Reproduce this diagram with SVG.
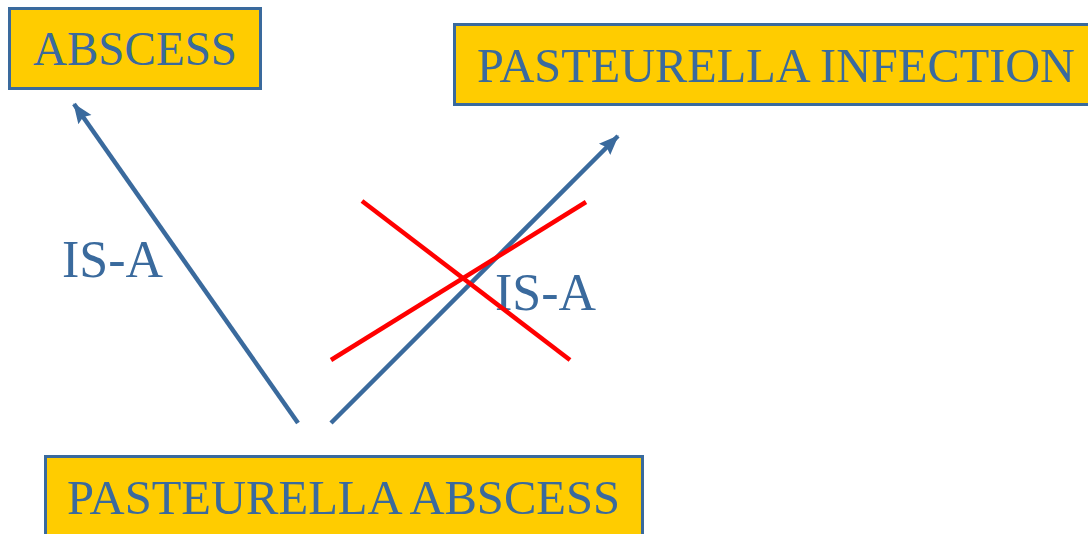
<svg xmlns="http://www.w3.org/2000/svg" width="1088" height="534" viewBox="0 0 1088 534">
  <style>
    .box { fill: #FFCC00; stroke: #3A6A9D; stroke-width: 3; }
    .lbl { font-family: "Liberation Serif", "Times New Roman", serif; font-size: 48.5px; fill: #3A6A9D; }
    .rel { font-family: "Liberation Serif", "Times New Roman", serif; font-size: 52px; fill: #3A6A9D; }
    .isa { stroke: #3A6A9D; stroke-width: 4.5; fill: none; marker-end: url(#head); }
    .cross { stroke: #FF0000; stroke-width: 4.5; fill: none; }
  </style>
  <defs>
    <marker id="head" markerUnits="userSpaceOnUse" markerWidth="20" markerHeight="20" viewBox="0 0 20 20" refX="19" refY="10" orient="auto">
      <path d="M0,2 L20,10 L0,18 L3,10 Z" fill="#3A6A9D"/>
    </marker>
  </defs>
  <rect width="1088" height="534" fill="#FFFFFF"/>

  <g id="node-abscess">
    <rect class="box" x="9.5" y="8.5" width="251" height="80"/>
    <text class="lbl" x="33" y="65" textLength="204" lengthAdjust="spacingAndGlyphs">ABSCESS</text>
  </g>

  <g id="node-pasteurella-infection">
    <rect class="box" x="454.5" y="24.5" width="640" height="80"/>
    <text class="lbl" x="477" y="82" textLength="598" lengthAdjust="spacingAndGlyphs">PASTEURELLA INFECTION</text>
  </g>

  <g id="node-pasteurella-abscess">
    <rect class="box" x="45.5" y="456.5" width="597" height="90"/>
    <text class="lbl" x="67" y="514" textLength="553" lengthAdjust="spacingAndGlyphs">PASTEURELLA ABSCESS</text>
  </g>

  <g id="connectors">
    <line class="isa" x1="298" y1="423" x2="74" y2="104"/>
    <line class="isa" x1="331" y1="423" x2="618" y2="136"/>
    <text class="rel" x="62" y="277" textLength="101" lengthAdjust="spacingAndGlyphs">IS-A</text>
    <text class="rel" x="495" y="310" textLength="101" lengthAdjust="spacingAndGlyphs">IS-A</text>
    <line class="cross" x1="362" y1="201" x2="570" y2="360"/>
    <line class="cross" x1="331" y1="360" x2="586" y2="202"/>
  </g>
</svg>
